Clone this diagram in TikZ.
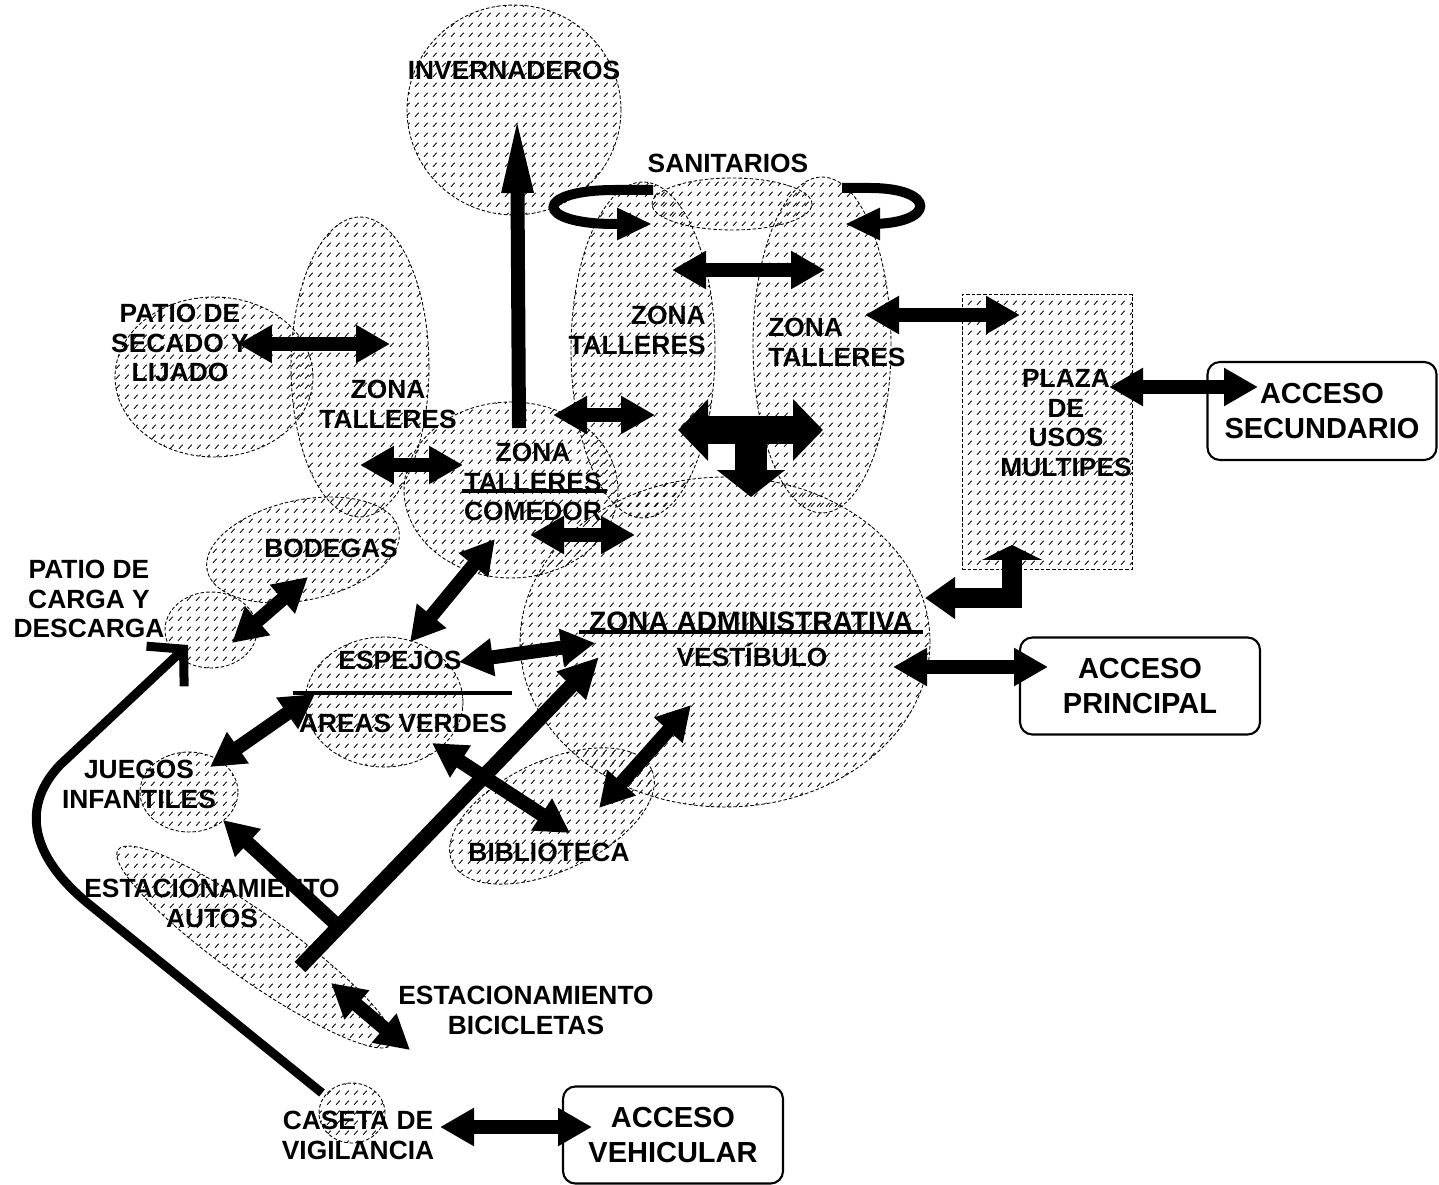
\documentclass[tikz,border=0pt]{standalone}
\usepackage{fontspec}
\setmainfont{Liberation Sans}
\usetikzlibrary{arrows.meta, shapes.geometric, patterns}

\pgfdeclarepatternformonly{slashdash}{\pgfqpoint{0pt}{0pt}}{\pgfqpoint{5pt}{5.5pt}}{\pgfqpoint{5pt}{5.5pt}}{%
  \pgfsetlinewidth{0.5pt}%
  \pgfpathmoveto{\pgfqpoint{1.2pt}{1.3pt}}%
  \pgfpathlineto{\pgfqpoint{3.3pt}{3.7pt}}%
  \pgfusepath{stroke}%
}

\tikzset{
  zone/.style={
    ellipse, draw, line width=0.5pt, dash pattern=on 2pt off 1.2pt,
    pattern=slashdash, pattern color=black, inner sep=0pt
  },
  plazabox/.style={
    rectangle, draw, line width=0.5pt, dash pattern=on 2pt off 1.2pt,
    pattern=slashdash, pattern color=black, inner sep=0pt
  },
  lbl/.style={font=\fontsize{15}{17}\selectfont\bfseries, align=center, inner sep=0pt},
  acc/.style={
    draw, line width=1.2pt, rounded corners=7pt, align=center,
    font=\fontsize{16.5}{19.5}\selectfont\bfseries
  },
  dbl/.style={line width=0.28cm,
    {Triangle[length=0.68cm,width=0.72cm]}-{Triangle[length=0.68cm,width=0.72cm]}},
  one/.style={line width=0.28cm, -{Triangle[length=0.68cm,width=0.72cm]}},
  loop/.style={line width=0.2cm, -{Triangle[length=0.7cm,width=0.6cm]}},
  rule/.style={line width=1.8pt}
}

\begin{document}
\begin{tikzpicture}[x=0.02cm, y=-0.02cm]
  \useasboundingbox (0,0) rectangle (1439,1185);

  % zonas
  \node[zone, minimum width=4.28cm, minimum height=4.2cm] (inv) at (514,110) {};
  \node[zone, minimum width=2.88cm, minimum height=6.72cm] (tl2) at (643,350) {};
  \node[zone, minimum width=2.76cm, minimum height=6.72cm] (tl3) at (822,345) {};
  \node[zone, minimum width=3.2cm, minimum height=1.04cm] (san) at (732,204) {};
  \node[zone, minimum width=2.76cm, minimum height=6cm] (tl1) at (360,367) {};
  \node[zone, minimum width=3.96cm, minimum height=3.2cm] (sec) at (214,377) {};
  \node[zone, minimum width=3.92cm, minimum height=2cm, rotate=12] (bod) at (303,550) {};
  \node[zone, minimum width=4.28cm, minimum height=3.52cm] (com) at (511,490) {};
  \node[zone, minimum width=8.2cm, minimum height=6.6cm] (adm) at (725,642) {};
  \node[zone, minimum width=1.84cm, minimum height=1.52cm] (car) at (211,630) {};
  \node[zone, minimum width=3.16cm, minimum height=2.6cm] (esp) at (384,702) {};
  \node[zone, minimum width=1.96cm, minimum height=1.6cm] (jue) at (189,792) {};
  \node[zone, minimum width=4.4cm, minimum height=2.2cm, rotate=25] (bib) at (552,816) {};
  \node[zone, minimum width=6.72cm, minimum height=1.32cm, rotate=-35.4] (aut) at (255,947) {};
  \node[zone, minimum width=1.32cm, minimum height=1.2cm] (cas) at (352,1113) {};
  \node[plazabox, minimum width=3.4cm, minimum height=5.5cm] (pla) at (1047,432) {};

  % accesos
  \node[acc, minimum width=4.58cm, minimum height=1.96cm] (asec) at (1322,411) {ACCESO\\SECUNDARIO};
  \node[acc, minimum width=4.8cm, minimum height=1.94cm] (apri) at (1140,686) {ACCESO\\PRINCIPAL};
  \node[acc, minimum width=4.4cm, minimum height=1.94cm] (aveh) at (673,1135) {ACCESO\\VEHICULAR};

  % puntos de las flechas
  \coordinate (a1) at (519,428);  \coordinate (a2) at (517,113);
  \coordinate (c1) at (672,270);  \coordinate (c2) at (825,270);
  \coordinate (d1) at (865,315);  \coordinate (d2) at (1020,315);
  \coordinate (e1) at (1109,387); \coordinate (e2) at (1258,387);
  \coordinate (f1) at (238,344);  \coordinate (f2) at (390,344);
  \coordinate (g1) at (360,465);  \coordinate (g2) at (463,465);
  \coordinate (h1) at (553,415);  \coordinate (h2) at (655,415);
  \coordinate (i1) at (678,430);  \coordinate (i2) at (823,430);
  \coordinate (i3) at (751,430);  \coordinate (i4) at (751,497);
  \coordinate (j1) at (530,535);  \coordinate (j2) at (635,535);
  \coordinate (k1) at (232,643);  \coordinate (k2) at (308,577);
  \coordinate (l1) at (495,539);  \coordinate (l2) at (410,642);
  \coordinate (m1) at (459,662);  \coordinate (m2) at (595,643);
  \coordinate (n1) at (315,694);  \coordinate (n2) at (210,767);
  \coordinate (o1) at (925,598);  \coordinate (o2) at (1012,598);
  \coordinate (o3) at (1012,545);
  \coordinate (p1) at (893,667);  \coordinate (p2) at (1048,667);
  \coordinate (q1) at (691,705);  \coordinate (q2) at (599,808);
  \coordinate (r1) at (300,967);  \coordinate (r2) at (599,657);
  \coordinate (r3) at (432,743);  \coordinate (r4) at (570,833);
  \coordinate (r5) at (338,926);  \coordinate (r6) at (223,820);
  \coordinate (s1) at (331,983);  \coordinate (s2) at (410,1050);
  \coordinate (t1) at (440,1127); \coordinate (t2) at (592,1127);
  \coordinate (u1) at (322,1093); \coordinate (u2) at (188,645);

  % flechas
  \draw[line width=0.28cm, -{Triangle[length=1.6cm,width=0.56cm]}] (a1) -- (a2);
  \draw[loop] (653,190) -- (615,190) .. controls (533,190) and (533,224) .. (615,224) -- (652,224);
  \draw[loop] (842,188) -- (870,188) .. controls (937,188) and (937,224) .. (870,224) -- (845,224);
  \draw[dbl] (c1) -- (c2);
  \draw[dbl] (d1) -- (d2);
  \draw[dbl] (e1) -- (e2);
  \draw[dbl] (f1) -- (f2);
  \draw[dbl] (g1) -- (g2);
  \draw[dbl] (h1) -- (h2);
  \draw[line width=0.64cm, -{Triangle[length=0.54cm,width=1.34cm]}] (i3) -- (i4);
  \draw[line width=0.56cm,
    {Triangle[length=0.6cm,width=1.2cm]}-{Triangle[length=0.6cm,width=1.2cm]}] (i1) -- (i2);
  \draw[dbl] (j1) -- (j2);
  \draw[dbl] (k1) -- (k2);
  \draw[dbl] (l1) -- (l2);
  \draw[dbl] (m1) -- (m2);
  \draw[dbl] (n1) -- (n2);
  \draw[line width=0.4cm, line join=miter,
    {Triangle[length=0.6cm,width=0.8cm]}-{Triangle[length=0.3cm,width=1.2cm]}] (o1) -- (o2) -- (o3);
  \draw[dbl] (p1) -- (p2);
  \draw[dbl] (q1) -- (q2);
  \draw[line width=0.3cm, -{Triangle[length=0.8cm,width=0.76cm]}] (r1) -- (r2);
  \draw[dbl] (r3) -- (r4);
  \draw[one] (r5) -- (r6);
  \draw[dbl] (s1) -- (s2);
  \draw[dbl] (t1) -- (t2);
  \draw[line width=0.18cm, -{Straight Barb[length=0.5cm,width=1.1cm]}]
    (u1) -- (90,905) .. controls (28,855) and (22,805) .. (60,765) -- (u2);

  % textos
  \node[lbl] (tinv) at (514,70) {INVERNADEROS};
  \node[lbl] (tsan) at (728,163) {SANITARIOS};
  \node[lbl, anchor=east, align=right] (ttl2) at (706,330) {ZONA\\TALLERES};
  \node[lbl, anchor=west, align=left] (ttl3) at (768,342) {ZONA\\TALLERES};
  \node[lbl] (ttl1) at (388,404) {ZONA\\TALLERES};
  \node[lbl] (tsec) at (180,343) {PATIO DE\\SECADO Y\\LIJADO};
  \node[lbl] (tcom) at (533,482) {ZONA\\TALLERES\\COMEDOR};
  \draw[rule] (462,491) -- (607,491);
  \node[lbl] (tbod) at (331,548) {BODEGAS};
  \node[lbl] (tcar) at (89,599) {PATIO DE\\CARGA Y\\DESCARGA};
  \node[lbl, font=\fontsize{16}{17}\selectfont\bfseries] (tadm) at (751,622) {ZONA ADMINISTRATIVA};
  \draw[rule] (579,632) -- (923,632);
  \node[lbl] (tves) at (752,655) {VESTÍBULO};
  \node[lbl] (tesp) at (400,660) {ESPEJOS};
  \draw[rule] (293,693) -- (512,693);
  \node[lbl] (tver) at (403,723) {AREAS VERDES};
  \node[lbl] (tjue) at (139,784) {JUEGOS\\INFANTILES};
  \node[lbl] (tbib) at (549,852) {BIBLIOTECA};
  \node[lbl] (taut) at (212,903) {ESTACIONAMIENTO\\AUTOS};
  \node[lbl] (tbic) at (526,1010) {ESTACIONAMIENTO\\BICICLETAS};
  \node[lbl] (tcas) at (358,1135) {CASETA DE\\VIGILANCIA};
  \node[lbl] (tpla) at (1066,423) {PLAZA\\DE\\USOS\\MULTIPES};
\end{tikzpicture}
\end{document}
